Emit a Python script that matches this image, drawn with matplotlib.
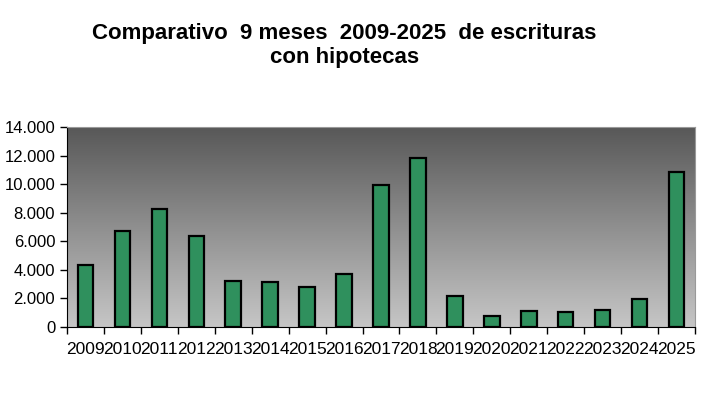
import numpy as np
import matplotlib
matplotlib.use("Agg")
import matplotlib.pyplot as plt
from matplotlib.ticker import FuncFormatter, MultipleLocator

plt.rcParams['font.family'] = ['Liberation Sans', 'DejaVu Sans']

years = ['2009', '2010', '2011', '2012', '2013', '2014', '2015', '2016', '2017',
         '2018', '2019', '2020', '2021', '2022', '2023', '2024', '2025']
escrituras = [4330, 6750, 8280, 6390, 3240, 3170, 2820, 3710, 9910,
              11800, 2190, 770, 1120, 1050, 1160, 1980, 10820]

fig = plt.figure(figsize=(7.07, 4.05), dpi=100)
ax = fig.add_axes([67 / 707, 1 - 327 / 405, 628 / 707, 200 / 405])

# gradient background, dark on top
grad = np.linspace(0, 1, 256).reshape(-1, 1)
ax.imshow(grad, cmap=matplotlib.colors.LinearSegmentedColormap.from_list('bg', ['#c6c6c6', '#585858']),
          extent=[0, 1, 0, 1], transform=ax.transAxes, aspect='auto', origin='lower', zorder=0)

x = np.arange(len(years))
ax.bar(x, escrituras, width=0.42, color='#2f905d', edgecolor='black', linewidth=1.6, zorder=2)

ax.set_xlim(-0.5, len(years) - 0.5)
ax.set_ylim(0, 14000)
ax.yaxis.set_major_locator(MultipleLocator(2000))
ax.yaxis.set_major_formatter(FuncFormatter(lambda v, p: f'{int(v):,}'.replace(',', '.')))

# ticks at category boundaries, labels centred
ax.set_xticks(np.arange(-0.5, len(years), 1))
ax.set_xticklabels([])
ax.set_xticks(x, minor=True)
ax.set_xticklabels(years, minor=True)
ax.tick_params(axis='x', which='minor', length=0, labelsize=12.5, pad=11)
ax.tick_params(axis='x', which='major', length=5, direction='out', width=1)
ax.tick_params(axis='y', length=5, direction='out', labelsize=12, width=1)

for s in ['top', 'right']:
    ax.spines[s].set_color('#999999')
for s in ['left', 'bottom']:
    ax.spines[s].set_color('black')

fig.text(0.487, 0.888, 'Comparativo  9 meses  2009-2025  de escrituras\ncon hipotecas',
         ha='center', va='center', fontsize=16, fontweight='bold', linespacing=1.15)

fig.savefig('out.png', dpi=100)
